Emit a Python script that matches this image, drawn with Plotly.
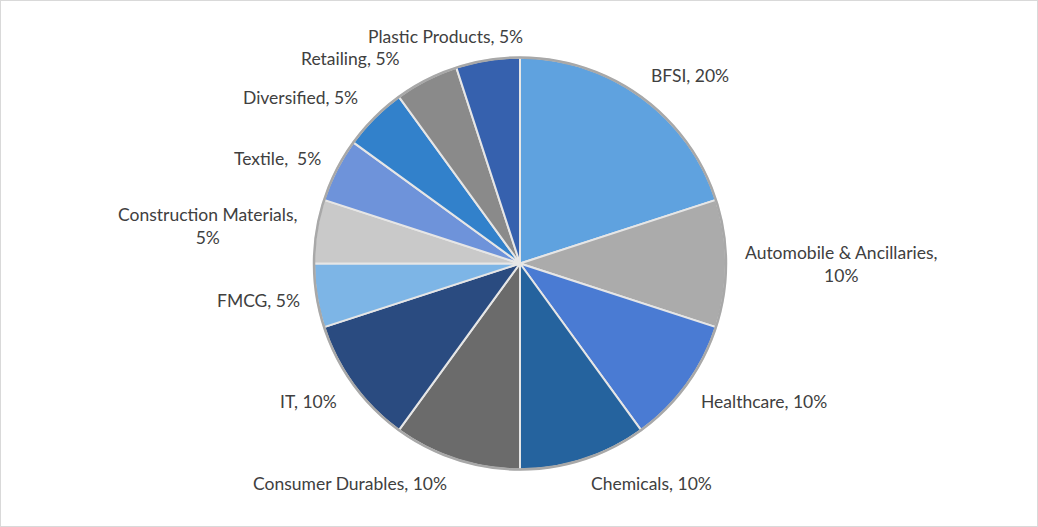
import plotly.graph_objects as go

# sector allocation (clockwise from 12 o'clock)
sectors = ["BFSI", "Automobile & Ancillaries", "Healthcare", "Chemicals",
           "Consumer Durables", "IT", "FMCG", "Construction Materials",
           "Textile", "Diversified", "Retailing", "Plastic Products"]
weights = [20, 10, 10, 10, 10, 10, 5, 5, 5, 5, 5, 5]
slice_colors = ["#5FA2DF", "#ABABAB", "#4A7BD3", "#25639E",
                "#6B6B6B", "#2A4B80", "#7DB5E6", "#C9C9C9",
                "#6E93DA", "#3281CB", "#8A8A8A", "#3661AE"]

# label text as shown in the chart, and where each one sits (paper px)
label_text = ["BFSI, 20%", "Automobile & Ancillaries,<br>10%", "Healthcare, 10%",
              "Chemicals, 10%", "Consumer Durables, 10%", "IT, 10%", "FMCG, 5%",
              "Construction Materials,<br>5%", "Textile,  5%", "Diversified, 5%",
              "Retailing, 5%", "Plastic Products, 5%"]
label_px = [(690, 75), (841, 264), (764, 401), (651, 483), (350, 483),
            (308, 401), (258, 300), (207, 226), (277, 158), (300, 97),
            (350, 58), (445, 36)]

W, H = 1038, 527
cx, cy, r = 520, 263.5, 206

fig = go.Figure(go.Pie(
    labels=sectors,
    values=weights,
    sort=False,
    direction="clockwise",
    rotation=0,
    marker=dict(colors=slice_colors, line=dict(color="#E6E6E6", width=2)),
    textinfo="none",
    hoverinfo="label+percent",
    domain=dict(x=[(cx - r) / W, (cx + r) / W],
                y=[(H - cy - r) / H, (H - cy + r) / H]),
    showlegend=False,
))

# grey rim round the pie (bevel look)
fig.add_shape(type="circle", xref="paper", yref="paper",
              x0=(cx - r) / W, x1=(cx + r) / W,
              y0=(H - cy - r) / H, y1=(H - cy + r) / H,
              line=dict(color="#A8A8A8", width=2.5))

for txt, (x, y) in zip(label_text, label_px):
    fig.add_annotation(x=x / W, y=1 - y / H, xref="paper", yref="paper",
                       text=txt, showarrow=False, align="center",
                       xanchor="center", yanchor="middle",
                       font=dict(family="Lato", size=17.5, color="#404040"))

fig.add_shape(type="rect", xref="paper", yref="paper", x0=0, y0=0, x1=1, y1=1,
              line=dict(color="#D9D9D9", width=2))

fig.update_layout(width=W, height=H, margin=dict(l=0, r=0, t=0, b=0),
                  paper_bgcolor="white", plot_bgcolor="white")

fig.write_html("out.html", config={"displayModeBar": False},
               post_script="document.body.style.margin='0';")
